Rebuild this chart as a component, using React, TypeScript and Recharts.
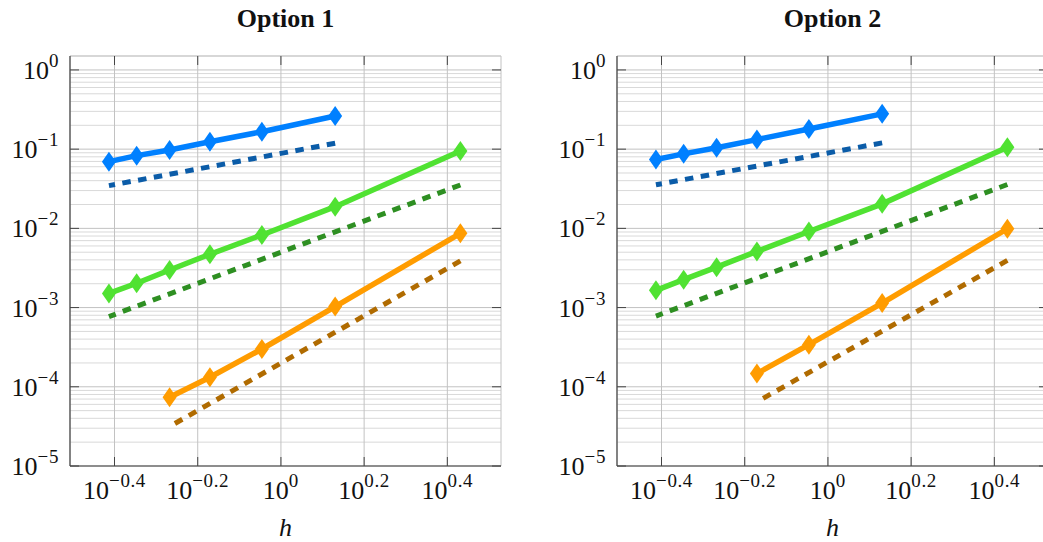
import { LineChart, Line, XAxis, YAxis, CartesianGrid } from 'recharts';

// mesh sizes h, n = 1..7
const hValues = [2.7, 1.35, 0.9, 0.675, 0.54, 0.45, 0.386];

// Option 1
const blue1 = [0.262, 0.166, 0.124, 0.0977, 0.0828, 0.0695]; // n = 2..7
const green1 = [0.0949, 0.0188, 0.00825, 0.00471, 0.00298, 0.00203, 0.00151];
const orange1 = [0.00867, 0.00103, 0.0003, 0.000132, 0.0000736]; // n = 1..5
const blueRef1 = [0.1187, 0.0346];
const greenRef1 = [0.0353, 0.000769];
const orangeRef1 = [0.00388, 0.0000315];

// Option 2
const blue2 = [0.279, 0.18, 0.132, 0.104, 0.0873, 0.0739];
const green2 = [0.1057, 0.0204, 0.00914, 0.00512, 0.00324, 0.00225, 0.00165];
const orange2 = [0.00989, 0.00114, 0.00034, 0.000147]; // n = 1..4
const blueRef2 = [0.12, 0.0355];
const greenRef2 = [0.0358, 0.000781];
const orangeRef2 = [0.00394, 0.0000645];

// reference-slope endpoints (drawn from large h to small h)
const blueRefX = [1.35, 0.386];
const greenRefX = [2.7, 0.386];
const orangeRefX1 = [2.7, 0.54];
const orangeRefX2 = [2.7, 0.675];

const xTickExps = [-0.4, -0.2, 0, 0.2, 0.4];
const yDecadeExps = [-5, -4, -3, -2, -1, 0];
const yMinorMults = [2, 3, 4, 5, 6, 7, 8, 9];

const xTicks = xTickExps.map((e) => Math.pow(10, e));
const yTicks = yDecadeExps.map((e) => Math.pow(10, e));
const yMinorTicks = yDecadeExps.slice(0, -1).flatMap((e) => yMinorMults.map((m) => m * Math.pow(10, e)));

const xDomain = [Math.pow(10, -0.507), Math.pow(10, 0.529)];
const yDomain = [1e-5, Math.pow(10, 0.176)];

const PL = 70;
const PR = 501;
const PT = 56;
const PB = 466;
const FONT = '"Liberation Serif", "Times New Roman", serif';
const FRAME = '#444';

const C = {
  blue: '#0080ff',
  blueDash: '#0b5ca8',
  green: '#50e232',
  greenDash: '#2e8f22',
  orange: '#ff9c00',
  orangeDash: '#b06b00',
};

const pts = (xs: number[], ys: number[]) => ys.map((y, i) => ({ x: xs[i], y }));

const fmtExp = (e: number) => (e < 0 ? '\u2212' + Math.abs(e) : String(e));

function YMajorTick(props: any) {
  const { y, payload } = props;
  const e = Math.round(Math.log10(payload.value));
  return (
    <g>
      <line x1={PL} x2={PL + 9} y1={y} y2={y} stroke={FRAME} />
      <line x1={PR - 9} x2={PR} y1={y} y2={y} stroke={FRAME} />
      <text x={PL - 11} y={y + 9} textAnchor="end" fontFamily={FONT} fontSize={26} fill="#111">
        10<tspan dy={-12} fontSize={19} letterSpacing={0.6}>{fmtExp(e)}</tspan>
      </text>
    </g>
  );
}

function YMinorTick(props: any) {
  const { y } = props;
  return (
    <g>
      <line x1={PL} x2={PL + 5} y1={y} y2={y} stroke={FRAME} />
      <line x1={PR - 5} x2={PR} y1={y} y2={y} stroke={FRAME} />
    </g>
  );
}

function XTick(props: any) {
  const { x, payload } = props;
  const e = Math.round(Math.log10(payload.value) * 10) / 10;
  return (
    <g>
      <line x1={x} x2={x} y1={PB} y2={PB - 9} stroke={FRAME} />
      <line x1={x} x2={x} y1={PT} y2={PT + 9} stroke={FRAME} />
      <text x={x} y={PB + 33} textAnchor="middle" fontFamily={FONT} fontSize={26} fill="#111">
        10<tspan dy={-12} fontSize={19} letterSpacing={0.6}>{fmtExp(e)}</tspan>
      </text>
    </g>
  );
}

function Diamond(props: any) {
  const { cx, cy, color } = props;
  if (cx == null || cy == null) return null;
  return (
    <polygon
      points={`${cx},${cy - 10} ${cx + 7},${cy} ${cx},${cy + 10} ${cx - 7},${cy}`}
      fill={color}
    />
  );
}

type PanelProps = {
  title: string;
  left: number;
  blue: number[];
  green: number[];
  orange: number[];
  blueRef: number[];
  greenRef: number[];
  orangeRef: number[];
  orangeRefX: number[];
};

function Panel(p: PanelProps) {
  const solid = [
    { key: 'blue', data: pts(hValues.slice(1), p.blue), color: C.blue },
    { key: 'green', data: pts(hValues, p.green), color: C.green },
    { key: 'orange', data: pts(hValues, p.orange), color: C.orange },
  ];
  const dashed = [
    { key: 'blueRef', data: pts(blueRefX, p.blueRef), color: C.blueDash },
    { key: 'greenRef', data: pts(greenRefX, p.greenRef), color: C.greenDash },
    { key: 'orangeRef', data: pts(p.orangeRefX, p.orangeRef), color: C.orangeDash },
  ];
  return (
    <div style={{ position: 'absolute', left: p.left, top: 0 }}>
      <LineChart width={PR + 10} height={542} margin={{ top: PT, right: 10, left: 0, bottom: 0 }}>
        <CartesianGrid yAxisId="minor" vertical={false} stroke="#d9d9d9" strokeWidth={1} />
        <CartesianGrid stroke="#c2c2c2" strokeWidth={1} />
        <XAxis
          dataKey="x"
          type="number"
          scale="log"
          domain={xDomain}
          allowDataOverflow
          ticks={xTicks}
          interval={0}
          height={542 - PB}
          axisLine={{ stroke: FRAME, strokeWidth: 1.2 }}
          tickLine={false}
          tick={<XTick />}
        />
        <XAxis
          xAxisId="top"
          orientation="top"
          type="number"
          scale="log"
          domain={xDomain}
          allowDataOverflow
          height={0}
          tick={false}
          tickLine={false}
          axisLine={{ stroke: FRAME, strokeWidth: 1.2 }}
        />
        <YAxis
          type="number"
          scale="log"
          domain={yDomain}
          allowDataOverflow
          ticks={yTicks}
          interval={0}
          width={PL}
          axisLine={{ stroke: FRAME, strokeWidth: 1.2 }}
          tickLine={false}
          tick={<YMajorTick />}
        />
        <YAxis
          yAxisId="minor"
          type="number"
          scale="log"
          domain={yDomain}
          allowDataOverflow
          ticks={yMinorTicks}
          interval={0}
          width={0}
          axisLine={false}
          tickLine={false}
          tick={<YMinorTick />}
        />
        <YAxis
          yAxisId="right"
          orientation="right"
          type="number"
          scale="log"
          domain={yDomain}
          allowDataOverflow
          width={0}
          tick={false}
          tickLine={false}
          axisLine={{ stroke: FRAME, strokeWidth: 1.2 }}
        />
        {dashed.map((s) => (
          <Line
            key={s.key}
            data={s.data}
            dataKey="y"
            type="linear"
            stroke={s.color}
            strokeWidth={5}
            strokeDasharray="8.5 7.5"
            dot={false}
            isAnimationActive={false}
          />
        ))}
        {solid.map((s) => (
          <Line
            key={s.key}
            data={s.data}
            dataKey="y"
            type="linear"
            stroke={s.color}
            strokeWidth={5.5}
            dot={(d: any) => <Diamond key={`${s.key}-${d.index}`} cx={d.cx} cy={d.cy} color={s.color} />}
            isAnimationActive={false}
          />
        ))}
        <text x={(PL + PR) / 2} y={27} textAnchor="middle" fontFamily={FONT} fontWeight="bold" fontSize={26} fill="#111">
          {p.title}
        </text>
        <text x={(PL + PR) / 2} y={536} textAnchor="middle" fontFamily={FONT} fontStyle="italic" fontSize={26} fill="#111">
          h
        </text>
      </LineChart>
    </div>
  );
}

export default function App() {
  return (
    <div
      style={{
        position: 'absolute',
        left: 0,
        top: 0,
        width: 1043,
        height: 542,
        overflow: 'hidden',
        background: '#fff',
      }}
    >
      <Panel
        title="Option 1"
        left={0}
        blue={blue1}
        green={green1}
        orange={orange1}
        blueRef={blueRef1}
        greenRef={greenRef1}
        orangeRef={orangeRef1}
        orangeRefX={orangeRefX1}
      />
      <Panel
        title="Option 2"
        left={547}
        blue={blue2}
        green={green2}
        orange={orange2}
        blueRef={blueRef2}
        greenRef={greenRef2}
        orangeRef={orangeRef2}
        orangeRefX={orangeRefX2}
      />
    </div>
  );
}
